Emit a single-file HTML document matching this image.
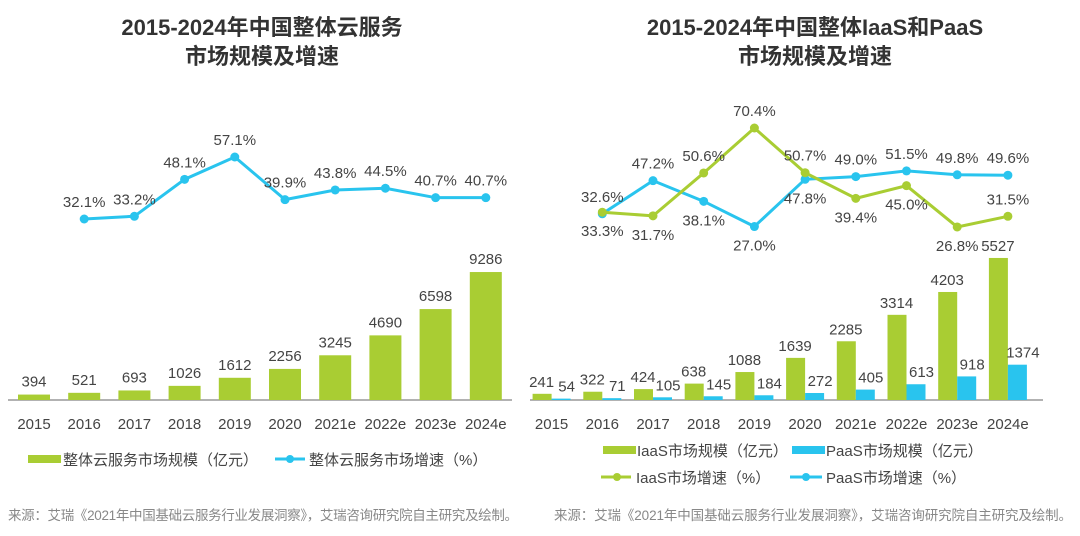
<!DOCTYPE html>
<html><head><meta charset="utf-8"><style>
body{margin:0;background:#fff;width:1080px;height:531px;overflow:hidden}
svg{font-family:"Liberation Sans","Noto Sans CJK SC",sans-serif}
</style></head><body>
<svg id="c" width="1080" height="531">
<text x="262" y="35" text-anchor="middle" font-size="22" font-weight="bold" fill="#333">2015-2024年中国整体云服务</text>
<text x="262" y="64" text-anchor="middle" font-size="22" font-weight="bold" fill="#333">市场规模及增速</text>
<text x="815" y="35" text-anchor="middle" font-size="22" font-weight="bold" fill="#333">2015-2024年中国整体IaaS和PaaS</text>
<text x="815" y="64" text-anchor="middle" font-size="22" font-weight="bold" fill="#333">市场规模及增速</text>
<line x1="8" y1="400" x2="512" y2="400" stroke="#999" stroke-width="1.5"/>
<line x1="530" y1="400" x2="1043" y2="400" stroke="#999" stroke-width="1.5"/>
<g>
<rect x="28" y="455" width="33" height="8" fill="#a9cd33"/>
<text x="63" y="465" font-size="15" fill="#444">整体云服务市场规模（亿元）</text>
<line x1="275" y1="459" x2="305" y2="459" stroke="#29c4ee" stroke-width="3"/><circle cx="290" cy="459" r="4" fill="#29c4ee"/>
<text x="309" y="465" font-size="15" fill="#444">整体云服务市场增速（%）</text>
</g>
<g>
<rect x="603" y="446" width="33" height="8" fill="#a9cd33"/>
<text x="637" y="456" font-size="15" fill="#444">IaaS市场规模（亿元）</text>
<rect x="792" y="446" width="33" height="8" fill="#29c4ee"/>
<text x="826" y="456" font-size="15" fill="#444">PaaS市场规模（亿元）</text>
<line x1="601" y1="477" x2="631" y2="477" stroke="#a9cd33" stroke-width="3"/><circle cx="617" cy="477" r="4" fill="#a9cd33"/>
<text x="636" y="483" font-size="15" fill="#444">IaaS市场增速（%）</text>
<line x1="790" y1="477" x2="822" y2="477" stroke="#29c4ee" stroke-width="3"/><circle cx="806" cy="477" r="4" fill="#29c4ee"/>
<text x="826" y="483" font-size="15" fill="#444">PaaS市场增速（%）</text>
</g>
<text x="8" y="520" font-size="13.5" fill="#888" textLength="510">来源：艾瑞《2021年中国基础云服务行业发展洞察》，艾瑞咨询研究院自主研究及绘制。</text>
<text x="554" y="520" font-size="13.5" fill="#888" textLength="518">来源：艾瑞《2021年中国基础云服务行业发展洞察》，艾瑞咨询研究院自主研究及绘制。</text>
</svg>
<script>
const categories=["2015","2016","2017","2018","2019","2020","2021e","2022e","2023e","2024e"];
const totalSize=[394,521,693,1026,1612,2256,3245,4690,6598,9286];
const totalGrowth=[32.1,33.2,48.1,57.1,39.9,43.8,44.5,40.7,40.7];
const iaasSize=[241,322,424,638,1088,1639,2285,3314,4203,5527];
const paasSize=[54,71,105,145,184,272,405,613,918,1374];
const iaasGrowth=[33.3,31.7,50.6,70.4,50.7,39.4,45.0,26.8,31.5];
const paasGrowth=[32.6,47.2,38.1,27.0,47.8,49.0,51.5,49.8,49.6];
const iaasLabelBelow=[1,1,0,0,0,1,1,1,0];
const paasLabelBelow=[0,0,1,1,1,0,0,0,0];
const svg=document.getElementById('c');const NS="http://www.w3.org/2000/svg";
const G="#a9cd33",B="#29c4ee";
function mk(t,a,p){const e=document.createElementNS(NS,t);for(const k in a)e.setAttribute(k,a[k]);(p||svg).appendChild(e);return e;}
function txt(x,y,s,sz,fill,p){const e=mk('text',{x:x,y:y,'text-anchor':'middle','font-size':sz||14,fill:fill||'#444'},p);e.textContent=s;return e;}
const lx=i=>34+i*50.2, ly=v=>400-v*0.01378, lg=v=>219-(v-32.1)*2.48;
const rx=i=>551.6+i*50.7, ry=v=>400-v*0.0257, rg=v=>128-(v-70.4)*2.27;
categories.forEach((c,i)=>{
 let t=txt(lx(i),429,c,15,'#444');
 
 t=txt(rx(i),429,c,15,'#444');
 
 let r=mk('rect',{x:lx(i)-16,y:ly(totalSize[i]),width:32,height:400-ly(totalSize[i]),fill:G});
 
 t=txt(lx(i),ly(totalSize[i])-8,String(totalSize[i]),15,'#444');
 
 r=mk('rect',{x:rx(i)-19,y:ry(iaasSize[i]),width:19,height:400-ry(iaasSize[i]),fill:G});
 
 r=mk('rect',{x:rx(i),y:ry(paasSize[i]),width:19,height:400-ry(paasSize[i]),fill:B});
 
 t=txt(rx(i)-10,ry(iaasSize[i])-7,String(iaasSize[i]),15,'#444');
 
 t=txt(rx(i)+15,ry(paasSize[i])-7,String(paasSize[i]),15,'#444');
 
});
function line(vals,xf,yf,col,name,below){
 const pts=vals.map((v,j)=>xf(j+1)+','+yf(v)).join(' ');
 const l=mk('polyline',{points:pts,fill:'none',stroke:col,'stroke-width':3});
 
 vals.forEach((v,j)=>{
  const c=mk('circle',{cx:xf(j+1),cy:yf(v),r:4.5,fill:col});
  
  const b=below&&below[j];
  const t=txt(xf(j+1),yf(v)+(b?24:-12),v.toFixed(1)+'%',15,'#444');
  
 });
}
line(totalGrowth,lx,lg,B,'total-growth',null);
line(paasGrowth,rx,rg,B,'paas-growth',paasLabelBelow);
line(iaasGrowth,rx,rg,G,'iaas-growth',iaasLabelBelow);
</script>
</body></html>
